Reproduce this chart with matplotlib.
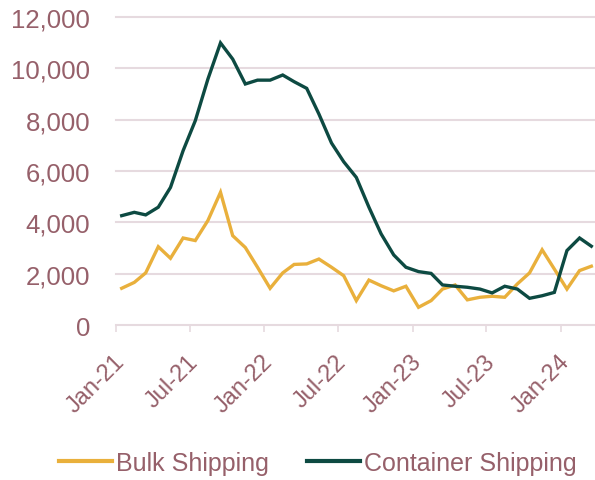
import matplotlib
matplotlib.use("Agg")
import matplotlib.pyplot as plt
import matplotlib.dates as mdates
import matplotlib.transforms as mtransforms
import pandas as pd
import numpy as np

months = pd.date_range("2021-01-01", periods=39, freq="MS") + pd.Timedelta(days=14)

bulk = [1430, 1660, 2030, 3050, 2600, 3390, 3290, 4070, 5170, 3480,
        3020, 2250, 1430, 2030, 2360, 2380, 2570, 2250, 1920, 950,
        1750, 1530, 1330, 1510, 690, 950, 1400, 1560, 980, 1080,
        1120, 1080, 1600, 2030, 2930, 2180, 1400, 2120, 2290]

container = [4260, 4390, 4290, 4590, 5360, 6790, 7960, 9580, 10990, 10360,
             9390, 9540, 9540, 9740, 9480, 9220, 8220, 7090, 6360, 5750,
             4590, 3550, 2730, 2250, 2080, 2010, 1560, 1510, 1470, 1400,
             1250, 1510, 1400, 1040, 1140, 1270, 2900, 3390, 3070]

yticks = [0, 2000, 4000, 6000, 8000, 10000, 12000]
xtick_dates = pd.date_range("2021-01-01", "2024-01-01", freq="6MS")

TEXT = "#96606A"
GRID = "#E6DADF"
GOLD = "#E9B03C"
TEAL = "#0D4A42"

plt.rcParams["font.family"] = ["Liberation Sans", "DejaVu Sans"]

fig = plt.figure(figsize=(5.95, 4.81), dpi=100)
ax = fig.add_axes([116/595, 1 - 326/481, 1 - 116/595, (326 - 18)/481])

ax.plot(months, bulk, color=GOLD, lw=2.4, label="Bulk Shipping", solid_joinstyle="miter", zorder=3)
ax.plot(months, container, color=TEAL, lw=2.4, label="Container Shipping", solid_joinstyle="miter", zorder=3)

ax.set_ylim(0, 12000)
ax.set_xlim(pd.Timestamp("2021-01-01"), pd.Timestamp("2024-03-24"))
ax.set_yticks(yticks)
ax.set_yticklabels([f"{v:,}" for v in yticks])
ax.set_xticks(xtick_dates)
ax.xaxis.set_major_formatter(mdates.DateFormatter("%b-%y"))

for s in ax.spines.values():
    s.set_visible(False)
ax.grid(axis="y", color=GRID, lw=1.5, zorder=0)
for gl in ax.get_ygridlines():
    gl.set_clip_on(False)
ax.set_axisbelow(True)

ax.tick_params(axis="y", length=0, pad=18.5, labelsize=18.5, labelcolor=TEXT)
ax.tick_params(axis="x", length=5, width=1.2, color=GRID, pad=19, labelsize=17, labelcolor=TEXT)
offset = mtransforms.ScaledTranslation(5/100, 0, fig.dpi_scale_trans)
for lbl in ax.get_xticklabels():
    lbl.set_rotation(45)
    lbl.set_ha("right")
    lbl.set_va("center")
    lbl.set_rotation_mode("anchor")
    lbl.set_transform(lbl.get_transform() + offset)

leg = fig.legend(loc="center", bbox_to_anchor=(0.534, 1 - 464/481), ncol=2, frameon=False,
                 fontsize=18, handlelength=2.15, handletextpad=0.15, columnspacing=1.5)
for t in leg.get_texts():
    t.set_color(TEXT)
for h in leg.get_lines():
    h.set_linewidth(3)

fig.savefig("out.png", dpi=100)
